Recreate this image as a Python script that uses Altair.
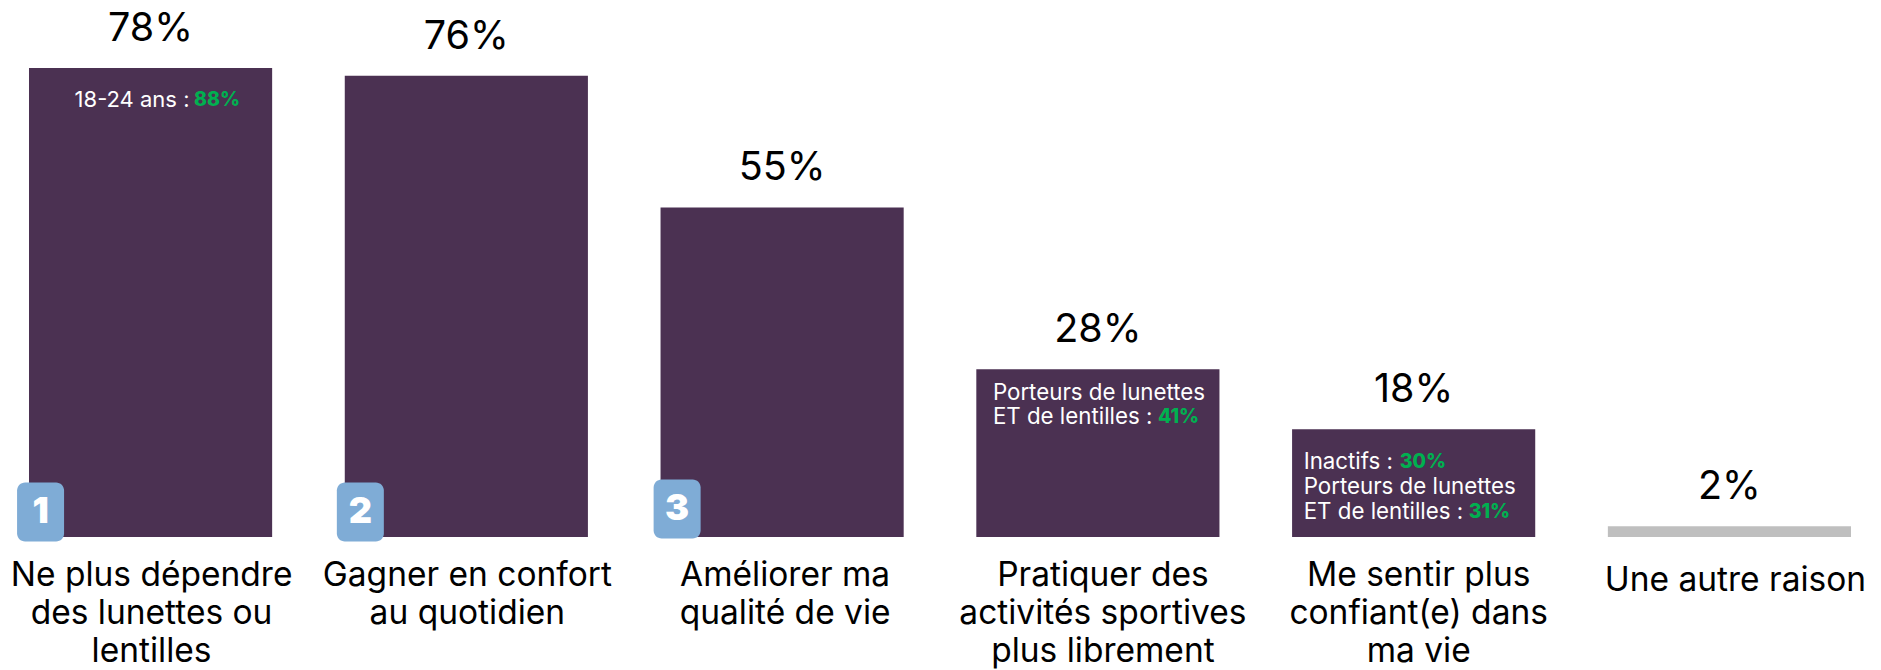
import altair as alt
import pandas as pd

FONT = "Inter"
categories = ["c1", "c2", "c3", "c4", "c5", "c6"]
bar_values = [78.3, 77.0, 55.0, 28.0, 18.0, 1.8]
value_labels = ["78%", "76%", "55%", "28%", "18%", "2%"]
bar_colors = ["#4B3152", "#4B3152", "#4B3152", "#4B3152", "#4B3152", "#BFBFBF"]
cat_lines = [
    "Ne plus dépendre|des lunettes ou|lentilles",
    "Gagner en confort|au quotidien",
    "Améliorer ma|qualité de vie",
    "Pratiquer des|activités sportives|plus librement",
    "Me sentir plus|confiant(e) dans|ma vie",
    "Une autre raison",
]
ranks = ["1", "2", "3"]

df = pd.DataFrame({
    "cat": categories, "v": bar_values, "label": value_labels,
    "col": bar_colors, "lines": cat_lines,
})

yscale = alt.Scale(domain=[0, 88.3], nice=False)
x = alt.X("cat:N", sort=categories, axis=None,
          scale=alt.Scale(paddingInner=0.23, paddingOuter=0.0665))
y = alt.Y("v:Q", axis=None, scale=yscale)
y0 = alt.Y("v0:Q", axis=None, scale=yscale)

bars = alt.Chart(df).mark_bar(stroke=None).encode(
    x=x, y=y, color=alt.Color("col:N", scale=None))

values = alt.Chart(df).mark_text(
    font=FONT, fontSize=39.5, color="#000000", baseline="middle", dy=-39
).encode(x=x, y=y, text="label:N")

def cat_text(names, dx, dy):
    sub = df[df["cat"].isin(names)].copy()
    sub["v0"] = 0
    return alt.Chart(sub).transform_calculate(
        t="split(datum.lines, '|')"
    ).mark_text(
        font=FONT, fontSize=33.5, color="#000000", baseline="middle",
        lineHeight=38, dx=dx, dy=dy
    ).encode(x=x, y=y0, text="t:N")

cat_layers = [
    cat_text(["c1", "c2"], 1, 39),
    cat_text(["c3"], 3, 39),
    cat_text(["c4"], 5, 39),
    cat_text(["c5"], 5, 39),
    cat_text(["c6"], 6, 44),
]

def note(cat, text, dx, dy, color="#FFFFFF", weight=400, size=22.3):
    sub = pd.DataFrame({"cat": [cat], "v0": [0], "text": [text]})
    return alt.Chart(sub).mark_text(
        font=FONT, fontSize=size, color=color, fontWeight=weight,
        align="left", baseline="middle", dx=dx, dy=dy
    ).encode(x=x, y=y0, text="text:N")

GREEN = "#00B050"
notes = [
    note("c1", "18-24 ans :", -76, -437, size=22),
    note("c1", "88%", 43.5, -437, GREEN, 800, 19.5),
    note("c4", "Porteurs de lunettes", -105, -144),
    note("c4", "ET de lentilles  :", -105, -120),
    note("c4", "41%", 60, -120, GREEN, 800, 19.5),
    note("c5", "Inactifs :", -110, -75),
    note("c5", "30%", -14, -75, GREEN, 800, 19.5),
    note("c5", "Porteurs de lunettes", -110, -50),
    note("c5", "ET de lentilles  :", -110, -25),
    note("c5", "31%", 55, -25, GREEN, 800, 19.5),
]

def badge(cat, rank, xo, yo):
    sub = pd.DataFrame({"cat": [cat], "v0": [0], "rank": [rank]})
    r = alt.Chart(sub).mark_rect(
        width=47, height=59, cornerRadius=8, color="#7FACD6",
        xOffset=xo, yOffset=yo
    ).encode(x=x, y=y0)
    t = alt.Chart(sub).mark_text(
        font=FONT, fontSize=36, fontWeight=900, color="#FFFFFF",
        baseline="middle", dx=xo, dy=yo
    ).encode(x=x, y=y0, text="rank:N")
    return [r, t]

badges = (badge("c1", ranks[0], -110, -25) + badge("c2", ranks[1], -106, -25)
          + badge("c3", ranks[2], -105, -28))

chart = alt.layer(bars, values, *cat_layers, *notes, *badges).properties(
    width=1864, height=529,
    autosize=alt.AutoSizeParams(type="none"),
    padding={"left": 0, "top": 0, "right": 0, "bottom": 132},
).configure_view(stroke=None)

chart.save("out.html", embed_options={"renderer": "svg", "actions": False})
